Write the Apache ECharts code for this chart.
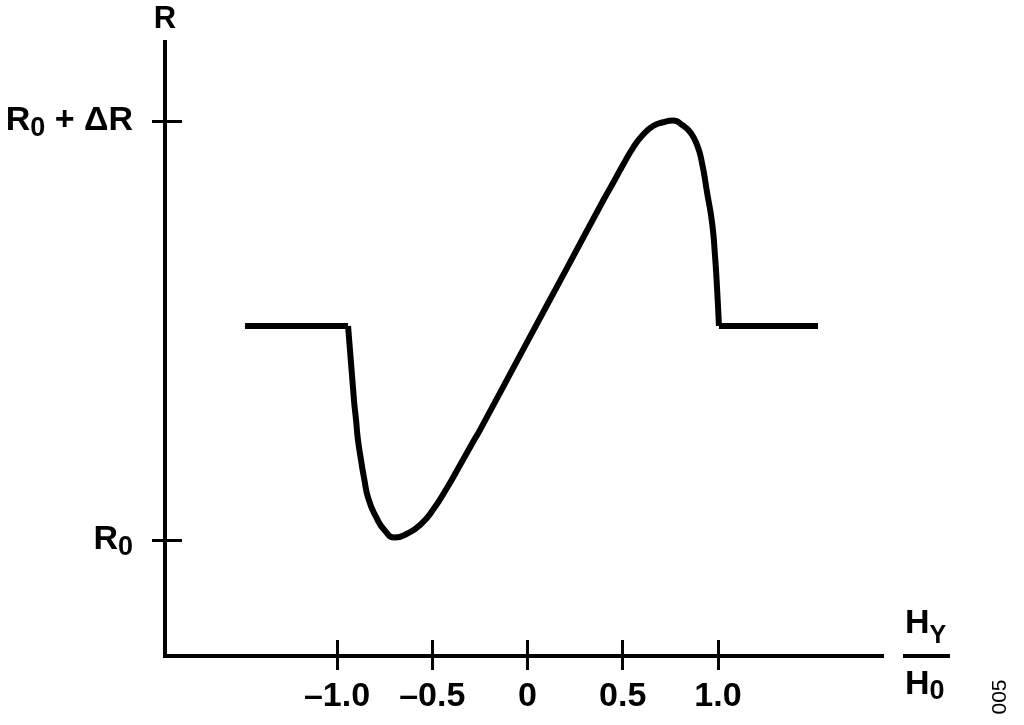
<!DOCTYPE html>
<html>
<head>
<meta charset="utf-8">
<script src="https://cdn.jsdelivr.net/npm/echarts@6/dist/echarts.min.js"></script>
<style>
html,body{margin:0;padding:0;background:#fff;}
#chart{width:1024px;height:725px;}
</style>
</head>
<body>
<div id="chart"></div>
<script>
// H_Y / H_0 (x) and normalised resistance (0 = R0, 1 = R0 + ΔR)
const hRatio = [-1.483, -0.942, -0.911, -0.900, -0.890, -0.874, -0.858, -0.835, -0.795, -0.748, -0.696, -0.633, -0.564, -0.496, -0.423, -0.354, -0.286, -0.249, 0.000, 0.200, 0.396, 0.449, 0.501, 0.554, 0.606, 0.659, 0.711, 0.764, 0.816, 0.853, 0.890, 0.916, 0.942, 0.969, 0.984, 0.995, 1.005, 1.525];
const resistance = [0.511, 0.511, 0.334, 0.286, 0.239, 0.191, 0.148, 0.098, 0.055, 0.022, 0.006, 0.015, 0.036, 0.072, 0.124, 0.179, 0.234, 0.263, 0.474, 0.643, 0.809, 0.852, 0.895, 0.936, 0.967, 0.988, 0.997, 1.001, 0.989, 0.974, 0.943, 0.900, 0.831, 0.757, 0.680, 0.601, 0.511, 0.511];
const xTickValues = [-1, -0.5, 0, 0.5, 1];
const xTickLabels = ['\u20131.0', '\u20130.5', '0', '0.5', '1.0'];
const yTickValues = [0, 1];
const yTickLabels = ['{m|R}{s|0}', '{m|R}{s|0}{m| + \u0394R}'];

const FONT = "'Liberation Sans', Arial, Helvetica, sans-serif";
const pts = hRatio.map((x, i) => [x, resistance[i]]);
const n = pts.length;

const chart = echarts.init(document.getElementById('chart'), null, {renderer: 'canvas'});
const xMin = -1.903, xMax = 1.861, yMin = -0.2768, yMax = 1.1885;

const lineBase = {type: 'line', symbol: 'none', silent: true, animation: false,
  xAxisIndex: 0, yAxisIndex: 0,
  lineStyle: {color: '#000', width: 6, cap: 'butt', join: 'round'}};

chart.setOption({
  backgroundColor: '#fff',
  animation: false,
  grid: {left: 165, top: 42, width: 717, height: 614, containLabel: false},
  xAxis: [{
    type: 'value', min: xMin, max: xMax, position: 'bottom',
    axisLine: {show: true, onZero: false, lineStyle: {color: '#000', width: 4, cap: 'square'}},
    axisTick: {show: true, inside: true, length: 16, customValues: xTickValues, lineStyle: {color: '#000', width: 3}},
    axisLabel: {show: true, customValues: xTickValues, margin: 24,
      formatter: v => { const i = xTickValues.findIndex(t => Math.abs(t - v) < 1e-6); return i >= 0 ? xTickLabels[i] : ''; },
      color: '#000', fontSize: 34, fontWeight: 'bold', fontFamily: FONT},
    splitLine: {show: false}
  }, {
    type: 'value', min: xMin, max: xMax, position: 'bottom', offset: 0,
    axisLine: {show: false, onZero: false},
    axisTick: {show: true, inside: false, length: 14, customValues: xTickValues, lineStyle: {color: '#000', width: 3}},
    axisLabel: {show: false},
    splitLine: {show: false}
  }],
  yAxis: [{
    type: 'value', min: yMin, max: yMax, position: 'left', offset: 0,
    axisLine: {show: true, onZero: false, lineStyle: {color: '#000', width: 4, cap: 'square'}},
    axisTick: {show: true, inside: false, length: 13, customValues: yTickValues, lineStyle: {color: '#000', width: 3}},
    axisLabel: {show: true, customValues: yTickValues, margin: 32,
      formatter: v => { const i = yTickValues.findIndex(t => Math.abs(t - v) < 1e-6); return i >= 0 ? yTickLabels[i] : ''; },
      color: '#000', fontFamily: FONT,
      rich: {
        m: {fontSize: 34, fontWeight: 'bold', fontFamily: FONT, color: '#000', lineHeight: 40, verticalAlign: 'middle'},
        s: {fontSize: 27, fontWeight: 'bold', fontFamily: FONT, color: '#000', lineHeight: 27, padding: [16, 0, 0, 0], verticalAlign: 'middle'}
      }},
    splitLine: {show: false}
  }, {
    type: 'value', min: yMin, max: yMax, position: 'left', offset: 0,
    axisLine: {show: false, onZero: false},
    axisTick: {show: true, inside: true, length: 17, customValues: yTickValues, lineStyle: {color: '#000', width: 3}},
    axisLabel: {show: false},
    splitLine: {show: false}
  }],
  graphic: [
    {type: 'text', x: 165, y: 19, silent: true,
      style: {text: 'R', align: 'center', verticalAlign: 'middle', fontSize: 31, fontWeight: 'bold', fontFamily: FONT, fill: '#000'}},
    {type: 'text', x: 905, y: 624, silent: true,
      style: {text: '{m|H}{s|Y}', align: 'left', verticalAlign: 'middle',
        rich: {
          m: {fontSize: 34, fontWeight: 'bold', fontFamily: FONT, fill: '#000', lineHeight: 40, verticalAlign: 'middle'},
          s: {fontSize: 25, fontWeight: 'bold', fontFamily: FONT, fill: '#000', lineHeight: 25, padding: [24, 0, 0, 0], verticalAlign: 'middle'}
        }}},
    {type: 'rect', silent: true, shape: {x: 903, y: 654, width: 47, height: 4}, style: {fill: '#000'}},
    {type: 'text', x: 905, y: 685, silent: true,
      style: {text: '{m|H}{s|0}', align: 'left', verticalAlign: 'middle',
        rich: {
          m: {fontSize: 34, fontWeight: 'bold', fontFamily: FONT, fill: '#000', lineHeight: 40, verticalAlign: 'middle'},
          s: {fontSize: 27, fontWeight: 'bold', fontFamily: FONT, fill: '#000', lineHeight: 27, padding: [14, 0, 0, 0], verticalAlign: 'middle'}
        }}},
    {type: 'text', x: 1000, y: 697, rotation: Math.PI / 2, silent: true,
      style: {text: '005', align: 'center', verticalAlign: 'middle', fontSize: 21, fontFamily: FONT, fill: '#000'}}
  ],
  series: [
    Object.assign({}, lineBase, {data: pts.slice(0, 2), smooth: false}),
    Object.assign({}, lineBase, {data: pts.slice(1, n - 1), smooth: 0.55}),
    Object.assign({}, lineBase, {data: pts.slice(n - 2), smooth: false})
  ]
});
</script>
</body>
</html>
